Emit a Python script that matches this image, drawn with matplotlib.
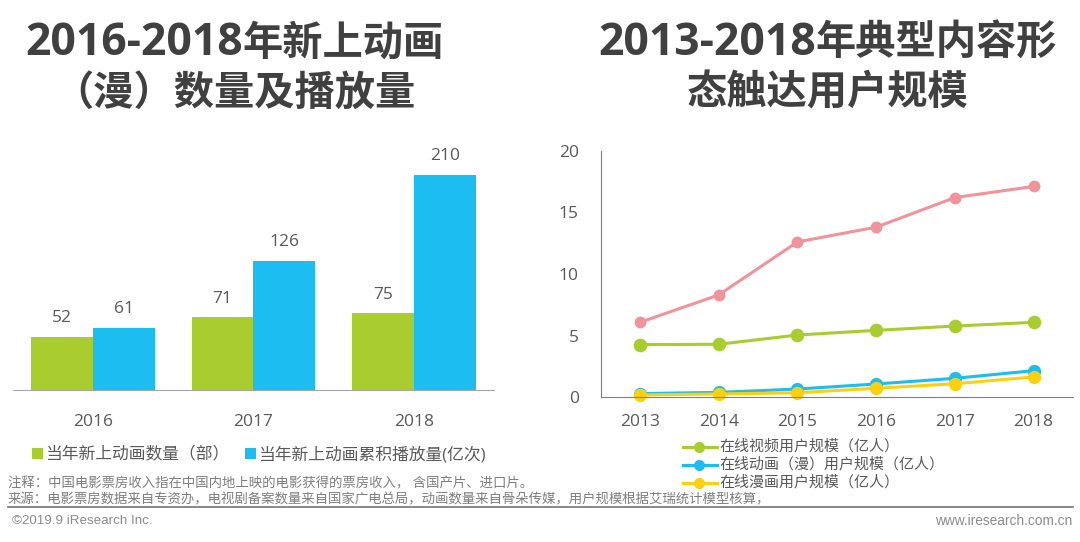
#!/usr/bin/env python3
import numpy as np
import matplotlib
matplotlib.use("Agg")
import matplotlib.pyplot as plt
from matplotlib.lines import Line2D

plt.rcParams['font.family'] = ['Open Sans', 'Noto Sans CJK SC', 'DejaVu Sans']

W, H = 1080, 542

BAR_YEARS = ["2016", "2017", "2018"]
BAR_COUNT = [52, 71, 75]
BAR_PLAYS = [61, 126, 210]

LINE_YEARS = ["2013", "2014", "2015", "2016", "2017", "2018"]
LINE_PINK = [6.08, 8.3, 12.6, 13.8, 16.2, 17.1]
LINE_VIDEO = [4.27, 4.3, 5.05, 5.43, 5.78, 6.08]
LINE_ANIME = [0.3, 0.4, 0.67, 1.08, 1.54, 2.16]
LINE_COMIC = [0.19, 0.27, 0.37, 0.73, 1.1, 1.65]

GREEN = "#a9cc2f"
BLUE = "#1cbdf0"
PINK = "#f0939a"
YELLOW = "#fdd00e"
DARK = "#404040"
GREY = "#595959"


def axes_px(fig, left, top, right, bottom):
    return fig.add_axes([left / W, 1 - bottom / H, (right - left) / W, (bottom - top) / H])


def title_text(fig, xpx, ypx, s, ha, size=29):
    fig.text(xpx / W, 1 - ypx / H, s, ha=ha, va="baseline", fontsize=size,
             fontweight="bold", color=DARK)


fig = plt.figure(figsize=(W / 100, H / 100), dpi=100, facecolor="white")

# titles: digits run wider than the CJK part in the original
title_text(fig, 243, 55, "2016-2018", "right", 32)
title_text(fig, 243, 55, "年新上动画", "left")
title_text(fig, 416, 105, "（漫）数量及播放量", "right")
title_text(fig, 816, 55, "2013-2018", "right", 32)
title_text(fig, 816, 55, "年典型内容形", "left")
title_text(fig, 968, 105, "态触达用户规模", "right")

# left chart
ax1 = axes_px(fig, 13, 140, 494, 390)
x = np.arange(len(BAR_YEARS))
width = 0.385
b1 = ax1.bar(x - width / 2, BAR_COUNT, width=width, color=GREEN, label="当年新上动画数量（部）")
b2 = ax1.bar(x + width / 2, BAR_PLAYS, width=width, color=BLUE, label="当年新上动画累积播放量(亿次)")
ax1.bar_label(b1, padding=7.5, fontsize=12.5, color=GREY)
ax1.bar_label(b2, padding=7.5, fontsize=12.5, color=GREY)
ax1.set_xlim(-0.5, 2.5)
ax1.set_ylim(0, 244)
ax1.set_xticks(x)
ax1.set_xticklabels(BAR_YEARS, fontsize=12.5, color=GREY)
ax1.set_yticks([])
ax1.tick_params(axis='x', length=0, pad=17)
for s in ["top", "left", "right"]:
    ax1.spines[s].set_visible(False)
ax1.spines["bottom"].set_color("#a6a6a6")

fig.legend(handles=[b1, b2], loc="center left", bbox_to_anchor=(32 / W, 1 - 455 / H), ncol=2,
           frameon=False, fontsize=12.1, labelcolor=GREY, handlelength=0.65, handleheight=0.65,
           handletextpad=0.12, columnspacing=0.95, borderpad=0, borderaxespad=0)

# right chart
ax2 = axes_px(fig, 600.5, 150.7, 1073, 397.3)
xl = np.arange(len(LINE_YEARS))
for vals, col, ms in [(LINE_PINK, PINK, 7.5), (LINE_VIDEO, GREEN, 8.8),
                      (LINE_ANIME, BLUE, 8.5), (LINE_COMIC, YELLOW, 8.5)]:
    ax2.plot(xl, vals, color=col, lw=2.2, marker="o", ms=ms, mec=col, clip_on=False)
ax2.set_xlim(-0.5, 5.5)
ax2.set_ylim(0, 20)
ax2.set_yticks([0, 5, 10, 15, 20])
ax2.set_xticks(xl)
ax2.set_xticklabels(LINE_YEARS)
ax2.tick_params(axis='both', length=0, labelsize=12.5, labelcolor=GREY)
ax2.tick_params(axis='x', pad=11.7)
ax2.tick_params(axis='y', pad=15.6)
for s in ["top", "right"]:
    ax2.spines[s].set_visible(False)
ax2.spines["left"].set_color("#7f7f7f")
ax2.spines["bottom"].set_color("#7f7f7f")

legend_rows = [("在线视频用户规模（亿人）", GREEN, 447), ("在线动画（漫）用户规模（亿人）", BLUE, 465),
               ("在线漫画用户规模（亿人）", YELLOW, 483)]
for label, col, ypx in legend_rows:
    fig.add_artist(Line2D([683 / W, 717 / W], [1 - ypx / H] * 2, color=col, lw=2.2))
    fig.add_artist(Line2D([699 / W], [1 - ypx / H], color=col, marker="o", ms=7))
    fig.text(719 / W, 1 - ypx / H, label, ha="left", va="center", fontsize=10.8, color=GREY)

# footer
fig.text(8 / W, 1 - 484 / H, "注释：中国电影票房收入指在中国内地上映的电影获得的票房收入， 含国产片、进口片。",
         ha="left", va="center", fontsize=9.65, color="#7f7f7f")
fig.text(8 / W, 1 - 500 / H,
         "来源：电影票房数据来自专资办，电视剧备案数量来自国家广电总局，动画数量来自骨朵传媒，用户规模根据艾瑞统计模型核算，",
         ha="left", va="center", fontsize=9.65, color="#7f7f7f")
fig.add_artist(Line2D([8 / W, 1073 / W], [1 - 507 / H] * 2, color="#808080", lw=1.3))
fig.text(12 / W, 1 - 521 / H, "©2019.9 iResearch Inc.", ha="left", va="center",
         fontsize=9.6, color="#8c8c8c", family="Liberation Sans")
fig.text(1072 / W, 1 - 521 / H, "www.iresearch.com.cn", ha="right", va="center",
         fontsize=9.95, color="#8c8c8c", family="Liberation Sans")

fig.savefig("out.png", dpi=100)
